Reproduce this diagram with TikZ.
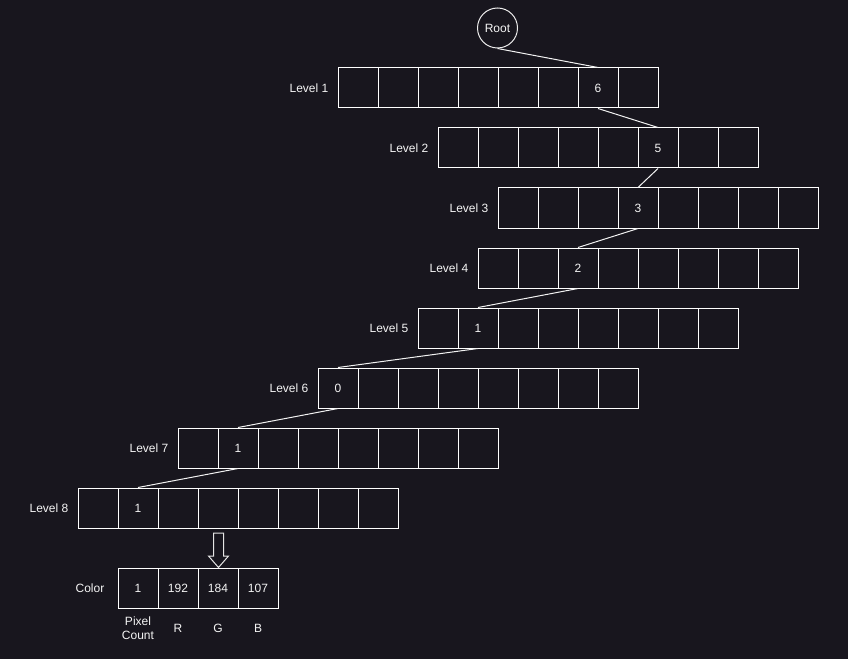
\documentclass[tikz,border=0pt]{standalone}
\usepackage{fontspec}
\setmainfont{Liberation Sans}
\usetikzlibrary{positioning}
\definecolor{bgdark}{RGB}{24,22,30}
\definecolor{txtlight}{RGB}{244,244,244}

\begin{document}
\begin{tikzpicture}[x=0.75pt,y=-0.75pt,line width=0.75pt,
    font=\fontsize{9pt}{10.5pt}\selectfont,
    cell/.style={rectangle,draw=white,minimum size=30pt,inner sep=0pt,text=txtlight},
    lvl/.style={text=txtlight,inner sep=0pt},
    root node/.style={circle,draw=white!85!gray,minimum size=30pt,inner sep=0pt,text=txtlight},
    link/.style={draw=white!90!gray},
    block arrow/.style={draw=white!80!gray,fill=bgdark}]

	\fill[bgdark] (0,0) rectangle (848,659);
	\useasboundingbox (0,0) rectangle (848,659);

	\node[root node] (root) at (497.5,28) {Root};

	% the eight levels, one highlighted cell each
	\foreach \lv/\x/\y/\k/\v in {1/338/68/6/6, 2/438/128/5/5, 3/498/188/3/3, 4/478/248/2/2,
	    5/418/308/1/1, 6/318/368/0/0, 7/178/428/1/1, 8/78/488/1/1} {
		\foreach \c in {0,...,7}
			\node[cell] (L\lv c\c) at ({\x+20+40*\c},{\y+20}) {\ifnum\c=\k\relax\v\fi};
		\node[lvl, left=6.5pt of L\lv c0] (lbl\lv) {Level \lv};
	}

	\path[link] (root.south) edge (L1c6.north);
	\foreach \a/\i/\b/\j in {1/6/2/5, 2/5/3/3, 3/3/4/2, 4/2/5/1, 5/1/6/0, 6/0/7/1, 7/1/8/1}
		\path[link] (L\a c\i.south) edge (L\b c\j.north);

	% color entry
	\foreach \v [count=\i from 0] in {1,192,184,107}
		\node[cell] (C\i) at ({138+40*\i},588) {\v};
	\node[lvl, left=9.5pt of C0] (colorlbl) {Color};
	\node[lvl, align=center] (pc) at (138,628) {Pixel\\Count};
	\node[lvl] (rl) at (178,628) {R};
	\node[lvl] (gl) at (218,628) {G};
	\node[lvl] (bl) at (258,628) {B};

	\draw[block arrow] (213.5,533) -- (223.5,533) -- (223.5,556) -- (228.5,556)
		-- (218.5,567.5) -- (208.5,556) -- (213.5,556) -- cycle;

\end{tikzpicture}
\end{document}
